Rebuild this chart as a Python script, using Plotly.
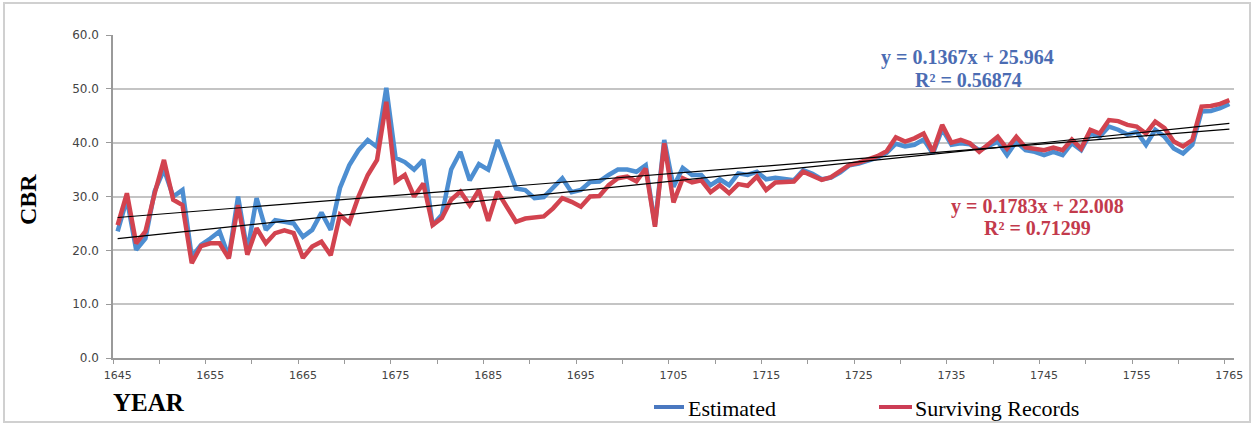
import plotly.graph_objects as go

# Crude birth rate per year
years = list(range(1645, 1766))

estimated = [
    23.5, 29.5, 20.1, 22.2, 31.0, 35.0, 30.0, 31.2, 18.8, 21.0,   # 1645-1654
    22.2, 23.5, 18.8, 30.0, 19.8, 29.7, 23.8, 25.6, 25.3, 25.0,   # 1655-1664
    22.5, 23.8, 27.0, 23.8, 31.6, 35.8, 38.6, 40.5, 39.2, 50.2,   # 1665-1674
    37.2, 36.4, 35.0, 36.8, 24.7, 26.6, 35.0, 38.3, 33.0, 36.0,   # 1675-1684
    35.0, 40.5, 36.0, 31.5, 31.2, 29.7, 29.9, 31.6, 33.4, 30.8,   # 1685-1694
    31.2, 32.7, 32.8, 34.0, 35.0, 35.0, 34.6, 35.8, 24.7, 40.5,   # 1695-1704
    31.8, 35.3, 34.0, 34.0, 32.1, 33.2, 32.1, 34.3, 34.0, 34.6,   # 1705-1714
    33.2, 33.5, 33.3, 33.0, 34.9, 34.2, 33.2, 33.5, 34.5, 35.8,   # 1715-1724
    36.1, 36.6, 37.2, 38.1, 39.8, 39.3, 39.6, 40.6, 38.0, 42.5,   # 1725-1734
    39.6, 39.9, 39.7, 38.6, 39.3, 40.2, 37.7, 40.2, 38.6, 38.3,   # 1735-1744
    37.7, 38.3, 37.7, 39.9, 38.6, 41.7, 41.1, 43.0, 42.4, 41.5,   # 1745-1754
    42.0, 39.6, 42.4, 41.1, 38.9, 38.0, 39.6, 45.8, 45.9, 46.4,   # 1755-1764
    47.2,                                                         # 1765
]

surviving = [
    24.7, 30.6, 21.3, 23.5, 30.6, 36.8, 29.4, 28.4, 17.6, 20.8,   # 1645-1654
    21.3, 21.3, 18.5, 28.4, 19.2, 24.1, 21.3, 23.2, 23.7, 23.2,   # 1655-1664
    18.6, 20.7, 21.6, 19.1, 26.6, 25.1, 30.0, 34.0, 36.8, 47.6,   # 1665-1674
    32.8, 34.0, 30.0, 32.4, 24.7, 26.0, 29.4, 30.9, 28.4, 31.2,   # 1675-1684
    25.5, 30.9, 28.1, 25.3, 25.9, 26.2, 26.3, 27.8, 29.7, 29.0,   # 1685-1694
    28.1, 30.0, 30.1, 32.1, 33.4, 33.7, 32.8, 35.2, 24.4, 39.9,   # 1695-1704
    28.9, 33.4, 32.6, 33.0, 30.8, 32.1, 30.6, 32.3, 32.0, 33.7,   # 1705-1714
    31.2, 32.6, 32.8, 32.8, 34.6, 33.9, 33.1, 33.6, 34.8, 35.9,   # 1715-1724
    36.3, 36.8, 37.5, 38.4, 41.0, 40.2, 40.8, 41.7, 38.3, 43.3,   # 1725-1734
    40.0, 40.5, 39.9, 38.3, 39.6, 41.1, 38.9, 41.1, 39.1, 38.9,   # 1735-1744
    38.6, 39.1, 38.6, 40.6, 38.9, 42.4, 41.7, 44.2, 44.0, 43.3,   # 1745-1754
    43.0, 41.7, 43.9, 42.7, 40.2, 39.3, 40.5, 46.7, 46.8, 47.2,   # 1755-1764
    47.9,                                                         # 1765
]

# Linear trendlines as printed on the chart (x = 1..121)
est_slope, est_icpt, est_r2 = 0.1367, 25.964, 0.56874
sur_slope, sur_icpt, sur_r2 = 0.1783, 22.008, 0.71299

x_ticks = list(range(1645, 1766, 10))
y_ticks = [0, 10, 20, 30, 40, 50, 60]

BLUE = "#4d8ed1"
RED = "#d2434f"
SERIF = "Liberation Serif, Times New Roman, serif"
SANS = "DejaVu Sans, Verdana, sans-serif"

W, H = 1254, 427
L, R, T, B = 113, 20, 35, 69
PW, PH = W - L - R, H - T - B


def px(x):
    return (x - L) / PW


def py(y):
    return (H - B - y) / PH


fig = go.Figure()
fig.add_trace(go.Scatter(x=years, y=estimated, mode="lines", name="Estimated",
                         line=dict(color=BLUE, width=4.5)))
fig.add_trace(go.Scatter(x=years, y=surviving, mode="lines", name="Surviving Records",
                         line=dict(color=RED, width=4.5)))

# trendlines from the printed equations, at both ends of the series
ends = [years[0], years[-1]]
idx = [1, len(years)]
for slope, icpt in [(est_slope, est_icpt), (sur_slope, sur_icpt)]:
    fig.add_trace(go.Scatter(x=ends, y=[slope * i + icpt for i in idx], mode="lines",
                             line=dict(color="black", width=1.2), showlegend=False))

fig.update_xaxes(
    range=[1644.5, 1765.5], tickvals=x_ticks, ticks="", ticklabelstandoff=6,
    tickfont=dict(family=SANS, size=11, color="#444444"),
    showgrid=False, showline=True, linecolor="#9a9a9a", linewidth=1.5,
    minor=dict(tick0=1644.5, dtick=5, ticks="outside", ticklen=4,
               tickcolor="#9a9a9a", showgrid=False),
)
fig.update_yaxes(
    range=[0, 60], tickvals=y_ticks, tickformat=".1f", ticks="outside", ticklen=5,
    tickcolor="#9a9a9a", ticklabelstandoff=5,
    tickfont=dict(family=SANS, size=12, color="#444444"),
    showgrid=True, gridcolor="#c4c4c4", gridwidth=2, zeroline=False,
    showline=True, linecolor="#9a9a9a", linewidth=1.5,
)

annotations = [
    dict(x=px(28), y=py(200), text="<b>CBR</b>", textangle=-90,
         font=dict(family=SERIF, size=24, color="black")),
    dict(x=px(149), y=py(402), text="<b>YEAR</b>",
         font=dict(family=SERIF, size=25, color="black")),
    dict(x=px(967), y=py(57), text=f"<b>y = {est_slope}x + {est_icpt}</b>",
         font=dict(family=SERIF, size=20, color="#4b6cb3")),
    dict(x=px(968), y=py(80), text=f"<b>R² = {est_r2}</b>",
         font=dict(family=SERIF, size=20, color="#4b6cb3")),
    dict(x=px(1037), y=py(206), text=f"<b>y = {sur_slope}x + {sur_icpt:.3f}</b>",
         font=dict(family=SERIF, size=20, color="#c33a4c")),
    dict(x=px(1037), y=py(228), text=f"<b>R² = {sur_r2}</b>",
         font=dict(family=SERIF, size=20, color="#c33a4c")),
    dict(x=px(686), y=py(408), text="Estimated", xanchor="left",
         font=dict(family=SERIF, size=22, color="black")),
    dict(x=px(913), y=py(408), text="Surviving Records", xanchor="left",
         font=dict(family=SERIF, size=22, color="black")),
]
for a in annotations:
    a.setdefault("xanchor", "center")
    a.update(xref="paper", yref="paper", yanchor="middle", showarrow=False)

shapes = [
    # hand-drawn legend swatches
    dict(type="line", x0=px(654), x1=px(684), y0=py(407), y1=py(407),
         line=dict(color="#4a78c0", width=4)),
    dict(type="line", x0=px(879), x1=px(912), y0=py(407), y1=py(407),
         line=dict(color="#cc3d55", width=4)),
    # outer chart frame
    dict(type="rect", x0=px(4), x1=px(1250), y0=py(422), y1=py(3),
         line=dict(color="#d0d0d0", width=2)),
]
for s in shapes:
    s.update(xref="paper", yref="paper")

fig.update_layout(
    width=W, height=H,
    margin=dict(l=L, r=R, t=T, b=B),
    paper_bgcolor="white", plot_bgcolor="white",
    showlegend=False,
    annotations=annotations, shapes=shapes,
)

# drop the browser's default 8px body margin so the chart sits at the page origin
fig.write_html("out.html", config={"displayModeBar": False},
               post_script="document.body.style.margin = '0px';")
